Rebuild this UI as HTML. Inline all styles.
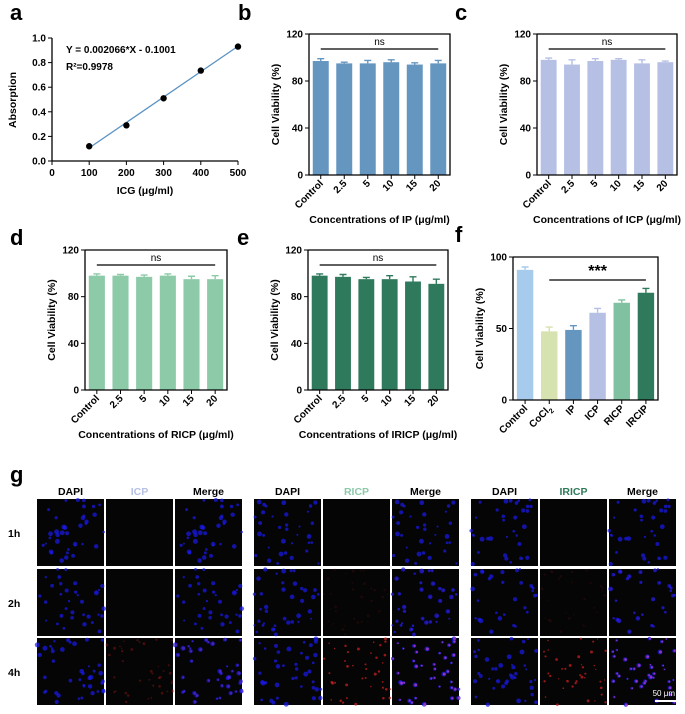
<!DOCTYPE html>
<html><head><meta charset="utf-8">
<style>
body{margin:0;background:#fff;}
svg{display:block;font-family:"Liberation Sans",Arial,sans-serif;}
.lbl{font-weight:bold;font-size:22px;}
.tk{font-size:10px;font-weight:bold;}
.ttl{font-size:10.5px;font-weight:bold;}
</style></head><body>
<svg id="fig" width="685" height="714" viewBox="0 0 685 714" xmlns="http://www.w3.org/2000/svg"></svg>
<script>
// ---- data ----
const icgConc=[100,200,300,400,500];
const icgAbs=[0.12,0.29,0.51,0.735,0.93];
const aTicksX=[0,100,200,300,400,500];
const aTicksY=[0,0.2,0.4,0.6,0.8,1.0];
const concCats=["Control","2.5","5","10","15","20"];
const ipVals=[97,95,95,96,94,95];
const ipErr=[2,1,2.5,2,1.5,2.5];
const icpVals=[98,94,97,98,95,96];
const icpErr=[1.5,4,2,1,3,1];
const ricpVals=[98,98,97,98,95,95];
const ricpErr=[1.5,1,1.5,1.5,2.5,3];
const iricpVals=[98,97,95,95,93,91];
const iricpErr=[1.5,2,1.5,3,4,4];
const fCats=["Control","CoCl2","IP","ICP","RICP","IRCIP"];
const fVals=[91,48,49,61,68,75];
const fErr=[2,3,3,3,2,3];
const viabTicks=[0,40,80,120];
const fTicks=[0,50,100];

const NS="http://www.w3.org/2000/svg";
const svg=document.getElementById('fig');
function el(tag,attrs,parent,text){const e=document.createElementNS(NS,tag);for(const k in attrs)e.setAttribute(k,attrs[k]);if(text!==undefined)e.textContent=text;(parent||svg).appendChild(e);return e;}

function panelLabel(t,x,y){const e=el('text',{x:x,y:y,class:'lbl'},svg,t);

}

// ---- panel a ----
(function(){
const g=el('g',{});


const x0=52,x1=238,yT=38,yB=161;
const sx=v=>x0+(v-0)/500*(x1-x0), sy=v=>yB-(v-0)/1.0*(yB-yT);
el('path',{d:`M${x0},${yT} V${yB} H${x1}`,stroke:'#000','stroke-width':1.3,fill:'none'},g);
aTicksX.forEach(t=>{el('line',{x1:sx(t),x2:sx(t),y1:yB,y2:yB+4,stroke:'#000'},g);
 el('text',{x:sx(t),y:yB+15,class:'tk','text-anchor':'middle'},g,String(t));});
aTicksY.forEach(t=>{el('line',{x1:x0-4,x2:x0,y1:sy(t),y2:sy(t),stroke:'#000'},g);
 el('text',{x:x0-6,y:sy(t)+3.5,class:'tk','text-anchor':'end'},g,t.toFixed(1));});
const slope=0.002066,ic=-0.1001;
const fit=el('line',{x1:sx(100),y1:sy(slope*100+ic),x2:sx(500),y2:sy(slope*500+ic),stroke:'#5b93c4','stroke-width':1.3},g);


icgConc.forEach((c,i)=>{const p=el('circle',{cx:sx(c),cy:sy(icgAbs[i]),r:3.2,fill:'#000'},g);

});
el('text',{x:66,y:53,class:'tk'},g,'Y = 0.002066*X - 0.1001');
el('text',{x:66,y:70,class:'tk'},g,'R²=0.9978');
el('text',{x:145,y:194,class:'ttl','text-anchor':'middle'},g,'ICG (μg/ml)');
el('text',{x:16,y:100,class:'ttl','text-anchor':'middle',transform:'rotate(-90 16 100)'},g,'Absorption');
})();
panelLabel('a',10,20);

function barPanel(name,cats,vals,errs,colors,x0,x1,yT,yB,maxV,ticks,xTitle,star,sub){
 const g=el('g',{});
 
 
 const band=(x1-x0)/cats.length, bw=band*0.68;
 const sx=i=>x0+band*(i+0.5), sy=v=>yB-v/maxV*(yB-yT);
 cats.forEach((c,i)=>{
  const col=Array.isArray(colors)?colors[i]:colors;
  const r=el('rect',{x:sx(i)-bw/2,y:sy(vals[i]),width:bw,height:yB-sy(vals[i]),fill:col},g);
  
  
  const ey=sy(vals[i]+errs[i]);
  el('path',{d:`M${sx(i)},${sy(vals[i])} V${ey} M${sx(i)-3.5},${ey} H${sx(i)+3.5}`,stroke:col,'stroke-width':1.4,fill:'none'},g);
  el('line',{x1:sx(i),x2:sx(i),y1:yB,y2:yB+4,stroke:'#000'},g);
  const tx=sx(i)+3,ty=yB+9;
  const t=el('text',{x:tx,y:ty,class:'tk','text-anchor':'end',transform:`rotate(-45 ${tx} ${ty})`},g);
  if(sub&&c==='CoCl2'){t.textContent='CoCl';el('tspan',{'font-size':'7','dy':'3'},t,'2');}
  else t.textContent=c;
 });
 el('path',{d:`M${x0},${yT} V${yB} H${x1} V${yT} H${x0}`,stroke:'#000','stroke-width':1.3,fill:'none'},g);
 ticks.forEach(t=>{el('line',{x1:x0-4,x2:x0,y1:sy(t),y2:sy(t),stroke:'#000'},g);
  el('text',{x:x0-6,y:sy(t)+3.5,class:'tk','text-anchor':'end'},g,String(t));});
 if(star){
  const i0=star.from,i1=cats.length-1;
  el('line',{x1:sx(i0),x2:sx(i1),y1:star.y,y2:star.y,stroke:'#000','stroke-width':1.2},g);
  el('text',{x:(sx(i0)+sx(i1))/2,y:star.y-4,'font-size':star.big?'16':'10','font-weight':star.big?'bold':'normal','text-anchor':'middle'},g,star.t);
 }
 const ym=(yT+yB)/2, yx=x0-30;
 el('text',{x:yx,y:ym,class:'ttl','text-anchor':'middle',transform:`rotate(-90 ${yx} ${ym})`},g,'Cell Viability (%)');
 if(xTitle) el('text',{x:(x0+x1)/2,y:yB+48,class:'ttl','text-anchor':'middle','font-size':'9.5'},g,xTitle);
}
barPanel('b',concCats,ipVals,ipErr,'#6596c0',309,450,34,175,120,viabTicks,'Concentrations of IP (μg/ml)',{from:0,y:49,t:'ns'});
panelLabel('b',238,20);
barPanel('c',concCats,icpVals,icpErr,'#b5c0e4',537,677,34,175,120,viabTicks,'Concentrations of ICP (μg/ml)',{from:0,y:49,t:'ns'});
panelLabel('c',455,20);
barPanel('d',concCats,ricpVals,ricpErr,'#8ccaa8',85,227,250,390,120,viabTicks,'Concentrations of RICP (μg/ml)',{from:0,y:265,t:'ns'});
panelLabel('d',10,245);
barPanel('e',concCats,iricpVals,iricpErr,'#2f7a5c',308,448,250,390,120,viabTicks,'Concentrations of IRICP (μg/ml)',{from:0,y:265,t:'ns'});
panelLabel('e',237,245);
barPanel('f',fCats,fVals,fErr,['#a6cbec','#d6e2b0','#6596c0','#b5c0e4','#7fc1a0','#2f7a5c'],513,658,257,400,100,fTicks,null,{from:1,y:280,t:'***',big:true},true);
panelLabel('f',455,242);

// ---- panel g ----
panelLabel('g',10,482);
let seed=12345;function rnd(){seed=(seed*1103515245+12345)%2147483648;return seed/2147483648;}
const groups=[{x:37,mid:'ICP',col:'#b5c0e4'},{x:254,mid:'RICP',col:'#8ccaa8'},{x:471,mid:'IRICP',col:'#2f7a5c'}];
const rows=[{y:499,t:'1h'},{y:569,t:'2h'},{y:638,t:'4h'}];
const IW=67,IH=67;
rows.forEach(r=>{const t=el('text',{x:8,y:r.y+38,class:'ttl','font-size':'12'},svg,r.t);

});
groups.forEach((gp,gi)=>{
 const heads=['DAPI',gp.mid,'Merge'];
 heads.forEach((h,ci)=>{
  const t=el('text',{x:gp.x+ci*(IW+2)+IW/2,y:495,class:'ttl','font-size':'11.5','text-anchor':'middle',fill:ci===1?gp.col:'#000'},svg,h);
  
  
 });
 rows.forEach((r,ri)=>{
  const dots=[];const n=30+Math.floor(rnd()*12);
  for(let k=0;k<n;k++)dots.push([rnd()*IW,rnd()*IH,1.0+rnd()*1.5]);
  const redLevel=ri===2?(gi===0?0.4:0.9):(ri===1&&gi>0?0.15:0.05);
  for(let ci=0;ci<3;ci++){
   const x=gp.x+ci*(IW+2);
   const im=el('g',{});
   
   
   el('rect',{x:x,y:r.y,width:IW,height:IH,fill:'#050505'},im);
   dots.forEach(d=>{
    if(ci!==1) el('circle',{cx:x+d[0],cy:r.y+d[1],r:d[2],fill:'#1a1aee',opacity:0.7},im);
    if(ci!==0 && redLevel>0.1) el('circle',{cx:x+d[0]+0.5,cy:r.y+d[1],r:d[2]*0.6,fill:ci===2?'#c040c0':'#d02020',opacity:redLevel*0.8},im);
   });
  }
 });
});
el('line',{x1:655,x2:677,y1:701,y2:701,stroke:'#fff','stroke-width':2});
el('text',{x:675,y:696,'font-size':'8','fill':'#fff','text-anchor':'end'},svg,'50 μm');
</script>
</body></html>
